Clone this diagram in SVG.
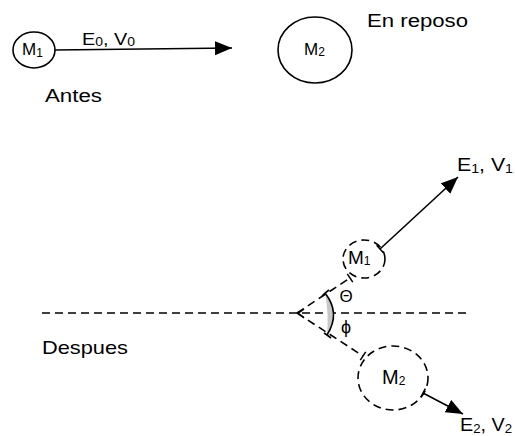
<svg xmlns="http://www.w3.org/2000/svg" width="515" height="436" viewBox="0 0 515 436">
<style>
text{font-family:"Liberation Sans",Arial,sans-serif;fill:#000}
.ln{stroke:#000;stroke-width:1.6;fill:none}
.dash{stroke:#000;stroke-width:1.6;fill:none;stroke-dasharray:8 5}
.sub{font-size:12px}
</style>
<defs>
<marker id="ah" markerUnits="userSpaceOnUse" markerWidth="20" markerHeight="16" refX="17" refY="7" orient="auto">
<path d="M0,0 L17,7 L0,14 Z" fill="#000"/>
</marker>
<marker id="tk" markerUnits="userSpaceOnUse" markerWidth="4" markerHeight="12" refX="2" refY="6" orient="auto">
<path d="M2,1 L2,11" stroke="#000" stroke-width="1.5"/>
</marker>
</defs>
<g id="connectors">
<line class="ln" x1="55" y1="50" x2="232" y2="48" marker-end="url(#ah)"/>
<line class="dash" x1="42" y1="313" x2="466" y2="313"/>
<line class="dash" x1="297" y1="313" x2="350" y2="278" marker-end="url(#tk)"/>
<line class="dash" x1="297" y1="313" x2="363" y2="356" marker-end="url(#tk)"/>
<path class="ln" d="M304,309 L298,313 L304,318"/>
<line class="ln" x1="380" y1="249" x2="458" y2="177" marker-start="url(#tk)" marker-end="url(#ah)"/>
<line class="ln" x1="423" y1="393" x2="463" y2="414" marker-start="url(#tk)" marker-end="url(#ah)"/>
</g>
<g id="angle">
<path d="M325,293 Q341,313 327,335 Q329,313 325,293 Z" fill="#c8c8c8"/>
<path class="ln" d="M325,293 Q341,313 327,335"/>
<path class="ln" d="M322,296 L325,293 L329,290"/>
<path class="ln" d="M324,333 L327,335 L331,338"/>
<text x="346" y="302" font-size="17" text-anchor="middle">Θ</text>
<text x="346" y="333" font-size="18" text-anchor="middle">ϕ</text>
</g>
<g id="m1-before">
<ellipse cx="34" cy="50" rx="21" ry="18" class="ln"/>
<text x="22" y="55" font-size="17">M<tspan class="sub" dy="2">1</tspan></text>
</g>
<g id="m2-before">
<ellipse cx="315" cy="50" rx="37" ry="33" class="ln"/>
<text x="304" y="55" font-size="17">M<tspan class="sub" dy="1">2</tspan></text>
</g>
<g id="m1-after">
<ellipse cx="364" cy="259" rx="21" ry="19" class="dash" stroke-dasharray="7 5"/>
<text x="348" y="264" font-size="19">M<tspan class="sub" font-size="13" dy="1">1</tspan></text>
</g>
<g id="m2-after">
<ellipse cx="393" cy="378" rx="35" ry="32" class="dash"/>
<text x="382" y="384" font-size="20">M<tspan class="sub" font-size="14" dy="1">2</tspan></text>
</g>
<g id="labels">
<text x="82" y="45" font-size="17" textLength="53" lengthAdjust="spacingAndGlyphs">E<tspan class="sub" dy="1">0</tspan><tspan dy="-1">, V</tspan><tspan class="sub" dy="1">0</tspan></text>
<text x="367" y="27" font-size="18" textLength="101" lengthAdjust="spacingAndGlyphs">En reposo</text>
<text x="45" y="102" font-size="18" textLength="57" lengthAdjust="spacingAndGlyphs">Antes</text>
<text x="42" y="354" font-size="19" textLength="86" lengthAdjust="spacingAndGlyphs">Despues</text>
<text x="457" y="171" font-size="18" textLength="56" lengthAdjust="spacingAndGlyphs">E<tspan class="sub" font-size="13" dy="2">1</tspan><tspan dy="-2">, V</tspan><tspan class="sub" font-size="13" dy="2">1</tspan></text>
<text x="460" y="431" font-size="18" textLength="52" lengthAdjust="spacingAndGlyphs">E<tspan class="sub" font-size="13" dy="2">2</tspan><tspan dy="-2">, V</tspan><tspan class="sub" font-size="13" dy="2">2</tspan></text>
</g>
</svg>
